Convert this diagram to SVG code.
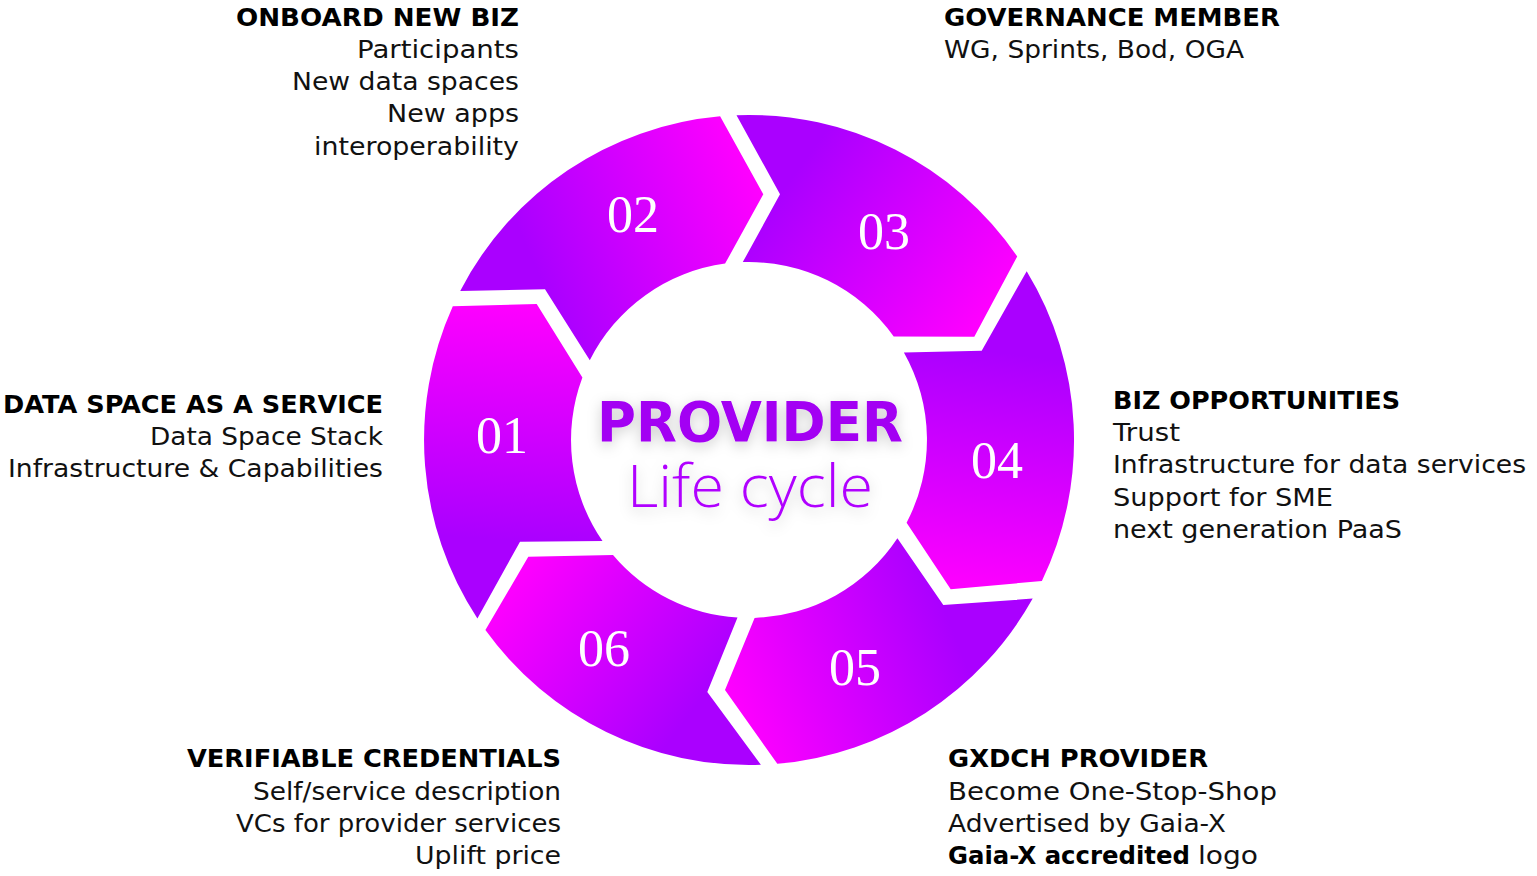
<svg xmlns="http://www.w3.org/2000/svg" width="1537" height="876" viewBox="0 0 1537 876">
<style>
.h{font-family:"DejaVu Sans","Noto Sans",sans-serif;font-weight:bold;font-size:25px;fill:#000}
.b{font-family:"DejaVu Sans","Noto Sans",sans-serif;font-size:24px;fill:#111}
.n{font-family:"Liberation Serif","DejaVu Serif",serif;font-size:52px;fill:#fff;text-anchor:middle}
.e{text-anchor:end}
.c1{font-family:"DejaVu Sans","Noto Sans",sans-serif;font-weight:bold;font-size:56px;fill:#a300f3;text-anchor:middle}
.c2{font-family:"Open Sans","DejaVu Sans",sans-serif;font-weight:300;font-size:58px;fill:#b000ff;text-anchor:middle}
</style>
<defs>
<linearGradient id="g1" gradientUnits="userSpaceOnUse" x1="520" y1="541" x2="536" y2="304"><stop offset="0" stop-color="#aa00ff"/><stop offset="1" stop-color="#ff00ff"/></linearGradient>
<linearGradient id="g2" gradientUnits="userSpaceOnUse" x1="545" y1="289" x2="763" y2="194"><stop offset="0" stop-color="#aa00ff"/><stop offset="1" stop-color="#ff00ff"/></linearGradient>
<linearGradient id="g3" gradientUnits="userSpaceOnUse" x1="780" y1="194" x2="974" y2="336"><stop offset="0" stop-color="#aa00ff"/><stop offset="1" stop-color="#ff00ff"/></linearGradient>
<linearGradient id="g4" gradientUnits="userSpaceOnUse" x1="981" y1="350" x2="950" y2="589"><stop offset="0" stop-color="#aa00ff"/><stop offset="1" stop-color="#ff00ff"/></linearGradient>
<linearGradient id="g5" gradientUnits="userSpaceOnUse" x1="943" y1="605" x2="725" y2="690"><stop offset="0" stop-color="#aa00ff"/><stop offset="1" stop-color="#ff00ff"/></linearGradient>
<linearGradient id="g6" gradientUnits="userSpaceOnUse" x1="707" y1="692" x2="528" y2="556"><stop offset="0" stop-color="#aa00ff"/><stop offset="1" stop-color="#ff00ff"/></linearGradient>
<filter id="sh" x="-20%" y="-50%" width="140%" height="200%"><feDropShadow dx="0" dy="4" stdDeviation="7" flood-color="#000" flood-opacity="0.2"/></filter>
</defs>

<g id="seg01"><path d="M477.4,618.4 A325,325 0 0 1 452.8,306.3 L536.7,304 L582.4,377.4 A178,178 0 0 0 602.5,541.1 L520,541.7 Z" fill="url(#g1)"/><text class="n" x="502" y="453">01</text></g>
<g id="seg02"><path d="M460.2,290.9 A325,325 0 0 1 720.1,116.3 L763.3,194.3 L725.1,263.6 A178,178 0 0 0 589.8,360.3 L545,289.3 Z" fill="url(#g2)"/><text class="n" x="633" y="232">02</text></g>
<g id="seg03"><path d="M736.5,115.2 A325,325 0 0 1 1017.2,256.4 L974.3,336.7 L893.7,336.4 A178,178 0 0 0 742.8,262.1 L780,194.3 Z" fill="url(#g3)"/><text class="n" x="884" y="249">03</text></g>
<g id="seg04"><path d="M1026.7,271.2 A325,325 0 0 1 1041.9,581 L950.7,589.3 L906.6,522.7 A178,178 0 0 0 903.9,352.4 L981.7,350.7 Z" fill="url(#g4)"/><text class="n" x="997" y="478">04</text></g>
<g id="seg05"><path d="M1032.7,598.6 A325,325 0 0 1 777.3,763.8 L725,690 L754.6,617.9 A178,178 0 0 0 897.4,538.2 L943.3,605 Z" fill="url(#g5)"/><text class="n" x="855" y="685">05</text></g>
<g id="seg06"><path d="M760.9,764.8 A325,325 0 0 1 485.4,630.1 L528.3,556.7 L613,554.9 A178,178 0 0 0 737.5,617.6 L707.3,692 Z" fill="url(#g6)"/><text class="n" x="604" y="666">06</text></g>

<g id="center" filter="url(#sh)">
<text class="c1" x="750" y="441" textLength="306" lengthAdjust="spacingAndGlyphs">PROVIDER</text>
<text class="c2" x="750" y="507" textLength="246" lengthAdjust="spacingAndGlyphs">Life cycle</text>
</g>

<g id="text-onboard">
<text class="h e" x="519" y="26" textLength="283" lengthAdjust="spacingAndGlyphs">ONBOARD NEW BIZ</text>
<text class="b e" x="519" y="58" textLength="162" lengthAdjust="spacingAndGlyphs">Participants</text>
<text class="b e" x="519" y="90" textLength="227" lengthAdjust="spacingAndGlyphs">New data spaces</text>
<text class="b e" x="519" y="122" textLength="132" lengthAdjust="spacingAndGlyphs">New apps</text>
<text class="b e" x="519" y="155" textLength="205" lengthAdjust="spacingAndGlyphs">interoperability</text>
</g>
<g id="text-governance">
<text class="h" x="944" y="26" textLength="336" lengthAdjust="spacingAndGlyphs">GOVERNANCE MEMBER</text>
<text class="b" x="944" y="58" textLength="300" lengthAdjust="spacingAndGlyphs">WG, Sprints, Bod, OGA</text>
</g>
<g id="text-dsaas">
<text class="h e" x="383" y="413" textLength="380" lengthAdjust="spacingAndGlyphs">DATA SPACE AS A SERVICE</text>
<text class="b e" x="383" y="445" textLength="233" lengthAdjust="spacingAndGlyphs">Data Space Stack</text>
<text class="b e" x="383" y="477" textLength="375" lengthAdjust="spacingAndGlyphs">Infrastructure &amp; Capabilities</text>
</g>
<g id="text-biz">
<text class="h" x="1113" y="409" textLength="287" lengthAdjust="spacingAndGlyphs">BIZ OPPORTUNITIES</text>
<text class="b" x="1113" y="441" textLength="67" lengthAdjust="spacingAndGlyphs">Trust</text>
<text class="b" x="1113" y="473" textLength="413" lengthAdjust="spacingAndGlyphs">Infrastructure for data services</text>
<text class="b" x="1113" y="506" textLength="220" lengthAdjust="spacingAndGlyphs">Support for SME</text>
<text class="b" x="1113" y="538" textLength="289" lengthAdjust="spacingAndGlyphs">next generation PaaS</text>
</g>
<g id="text-vc">
<text class="h e" x="561" y="767" textLength="374" lengthAdjust="spacingAndGlyphs">VERIFIABLE CREDENTIALS</text>
<text class="b e" x="561" y="800" textLength="308" lengthAdjust="spacingAndGlyphs">Self/service description</text>
<text class="b e" x="561" y="832" textLength="325" lengthAdjust="spacingAndGlyphs">VCs for provider services</text>
<text class="b e" x="561" y="864" textLength="146" lengthAdjust="spacingAndGlyphs">Uplift price</text>
</g>
<g id="text-gxdch">
<text class="h" x="948" y="767" textLength="260" lengthAdjust="spacingAndGlyphs">GXDCH PROVIDER</text>
<text class="b" x="948" y="800" textLength="329" lengthAdjust="spacingAndGlyphs">Become One-Stop-Shop</text>
<text class="b" x="948" y="832" textLength="278" lengthAdjust="spacingAndGlyphs">Advertised by Gaia-X</text>
<text class="h" x="948" y="864" textLength="242" lengthAdjust="spacingAndGlyphs">Gaia-X accredited</text>
<text class="b" x="1198" y="864" textLength="60" lengthAdjust="spacingAndGlyphs">logo</text>
</g>
</svg>
